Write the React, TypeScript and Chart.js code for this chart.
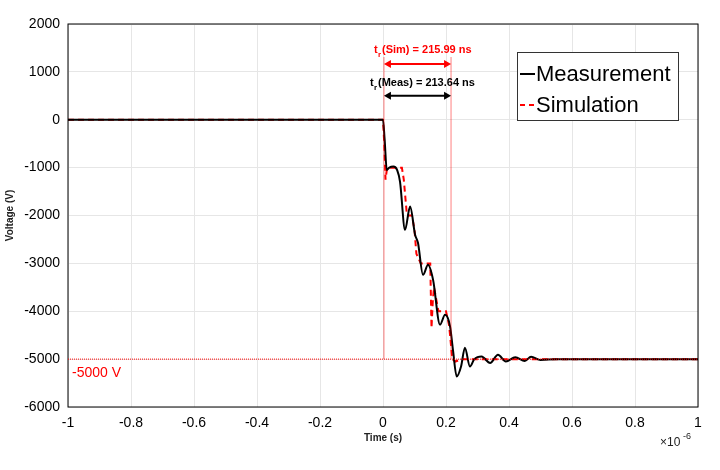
import React, { useEffect, useRef } from "react";
import { Chart, registerables } from "chart.js";
Chart.register(...registerables);

const measT = [-1, -0.6, -0.2, 0, 0.005, 0.012, 0.02, 0.033, 0.045, 0.054, 0.07, 0.086, 0.102, 0.111, 0.127, 0.143, 0.159, 0.181, 0.197, 0.213, 0.222, 0.234, 0.248, 0.26, 0.276, 0.29, 0.313, 0.34, 0.365, 0.39, 0.42, 0.45, 0.47, 0.5, 0.55, 0.7, 0.85, 1];
const measV = [0, 0, 0, 0, -400, -1050, -1000, -979, -1050, -1292, -2300, -1814, -2405, -2570, -3240, -3030, -3345, -4280, -4075, -4320, -4800, -5363, -5150, -4760, -5155, -5000, -4945, -5080, -4910, -5050, -4960, -5040, -4950, -5020, -5000, -5000, -5000, -5000];
const simT = [-1, -0.5, 0, 0.004, 0.008, 0.013, 0.02, 0.06, 0.066, 0.076, 0.092, 0.1, 0.106, 0.12, 0.15, 0.154, 0.158, 0.162, 0.176, 0.2, 0.21, 0.22, 0.23, 0.25, 0.3, 0.5, 1];
const simV = [0, 0, 0, -500, -1250, -1000, -1000, -1000, -1250, -2000, -2000, -2300, -2800, -3000, -3000, -4350, -3800, -3500, -4000, -4000, -4300, -5000, -5050, -5000, -5000, -5000, -5000];
const xTicks = [-1, -0.8, -0.6, -0.4, -0.2, 0, 0.2, 0.4, 0.6, 0.8, 1];

export default function App() {
  const ref = useRef<HTMLCanvasElement>(null);
  useEffect(() => {
    document.body.style.margin = "0";
    const ann = {
      id: "ann",
      afterDatasetsDraw(c: any) {
        const ctx = c.ctx, x = c.scales.x, y = c.scales.y, a = c.chartArea;
        ctx.save();
        ctx.strokeStyle = "#000"; ctx.lineWidth = 1;
        ctx.strokeRect(a.left, a.top, a.right - a.left, a.bottom - a.top);
        ctx.strokeStyle = "red"; ctx.setLineDash([1, 1]);
        const x1 = x.getPixelForValue(0.003), x2 = x.getPixelForValue(0.216), ym = y.getPixelForValue(-5000);
        ctx.beginPath();
        ctx.moveTo(x1, y.getPixelForValue(1300)); ctx.lineTo(x1, ym);
        ctx.moveTo(x2, y.getPixelForValue(1300)); ctx.lineTo(x2, ym);
        ctx.moveTo(a.left, ym); ctx.lineTo(a.right, ym);
        ctx.stroke();
        ctx.setLineDash([]);
        const arrow = (yy: number, col: string) => {
          ctx.strokeStyle = col; ctx.fillStyle = col; ctx.lineWidth = 2;
          ctx.beginPath(); ctx.moveTo(x1 + 4, yy); ctx.lineTo(x2 - 4, yy); ctx.stroke();
          ctx.beginPath(); ctx.moveTo(x1, yy); ctx.lineTo(x1 + 7, yy - 4); ctx.lineTo(x1 + 7, yy + 4); ctx.fill();
          ctx.beginPath(); ctx.moveTo(x2, yy); ctx.lineTo(x2 - 7, yy - 4); ctx.lineTo(x2 - 7, yy + 4); ctx.fill();
        };
        const yr = y.getPixelForValue(1165), yb = y.getPixelForValue(500);
        arrow(yr, "red"); arrow(yb, "black");
        ctx.font = "bold 11px 'Liberation Sans', Arial";
        ctx.textAlign = "left"; ctx.textBaseline = "middle";
        const lab = (txt: string, xx: number, yy: number, col: string) => {
          ctx.fillStyle = col;
          ctx.fillText("t", xx, yy);
          ctx.font = "bold 8px 'Liberation Sans', Arial";
          ctx.fillText("r", xx + 4, yy + 5);
          ctx.font = "bold 11px 'Liberation Sans', Arial";
          ctx.fillText(txt, xx + 8, yy);
        };
        lab("(Sim) = 215.99 ns", 374, yr - 14, "red");
        lab("(Meas) = 213.64 ns", 370, yb - 13, "black");
        ctx.fillStyle = "red"; ctx.font = "14px 'Liberation Sans', Arial";
        ctx.fillText("-5000 V", a.left + 4, ym + 14);
        // legend
        ctx.fillStyle = "#fff"; ctx.fillRect(517, 52, 161, 68);
        ctx.strokeStyle = "#333"; ctx.lineWidth = 1; ctx.strokeRect(517.5, 52.5, 161, 68);
        ctx.font = "22px 'Liberation Sans', Arial"; ctx.fillStyle = "#000";
        ctx.strokeStyle = "#000"; ctx.lineWidth = 2;
        ctx.beginPath(); ctx.moveTo(520, 74); ctx.lineTo(535, 74); ctx.stroke();
        ctx.fillText("Measurement", 536, 75);
        ctx.strokeStyle = "red"; ctx.setLineDash([5, 4]);
        ctx.beginPath(); ctx.moveTo(520, 105); ctx.lineTo(535, 105); ctx.stroke();
        ctx.setLineDash([]);
        ctx.fillText("Simulation", 536, 106);
        ctx.font = "12px 'Liberation Sans', Arial"; ctx.fillStyle = "#222";
        ctx.fillText("×10", a.right - 38, a.bottom + 36);
        ctx.font = "9px 'Liberation Sans', Arial";
        ctx.fillText("-6", a.right - 15, a.bottom + 30);
        ctx.restore();
      },
    };
    const chart = new Chart(ref.current!, {
      type: "line",
      data: {
        datasets: [
          { label: "Measurement", data: measT.map((t, i) => ({ x: t, y: measV[i] })), borderColor: "#000", borderWidth: 2, pointRadius: 0, tension: 0.4, cubicInterpolationMode: "monotone" },
          { label: "Simulation", data: simT.map((t, i) => ({ x: t, y: simV[i] })), borderColor: "red", borderWidth: 2, borderDash: [6, 4], pointRadius: 0, tension: 0 },
        ],
      } as any,
      options: {
        animation: false, responsive: false,
        layout: { padding: { top: 24, right: 22, left: 0, bottom: 22 } },
        plugins: { legend: { display: false }, tooltip: { enabled: false } },
        scales: {
          x: {
            type: "linear", min: -1, max: 1,
            afterBuildTicks: (s: any) => { s.ticks = xTicks.map((v) => ({ value: v })); },
            afterFit: (s: any) => { s.height = 41; },
            grid: { color: "#e6e6e6", drawTicks: false }, border: { display: false },
            ticks: { color: "#000", padding: 8, font: { size: 14, family: "'Liberation Sans', Arial" }, callback: (v: any) => String(Math.round(v * 10) / 10) },
            title: { display: true, text: "Time (s)", color: "#222", font: { size: 10, weight: "bold", family: "'Liberation Sans', Arial" }, padding: { top: 0 } },
          },
          y: {
            min: -6000, max: 2000,
            afterFit: (s: any) => { s.width = 68; },
            grid: { color: "#e6e6e6", drawTicks: false }, border: { display: false },
            ticks: { stepSize: 1000, color: "#000", padding: 8, font: { size: 14, family: "'Liberation Sans', Arial" }, callback: (v: any) => String(v) },
            title: { display: true, text: "Voltage (V)", color: "#222", font: { size: 10, weight: "bold", family: "'Liberation Sans', Arial" }, padding: { bottom: 2 } },
          },
        },
      } as any,
      plugins: [ann],
    });
    return () => chart.destroy();
  }, []);
  return <canvas ref={ref} width={720} height={470} style={{ display: "block" }} />;
}
